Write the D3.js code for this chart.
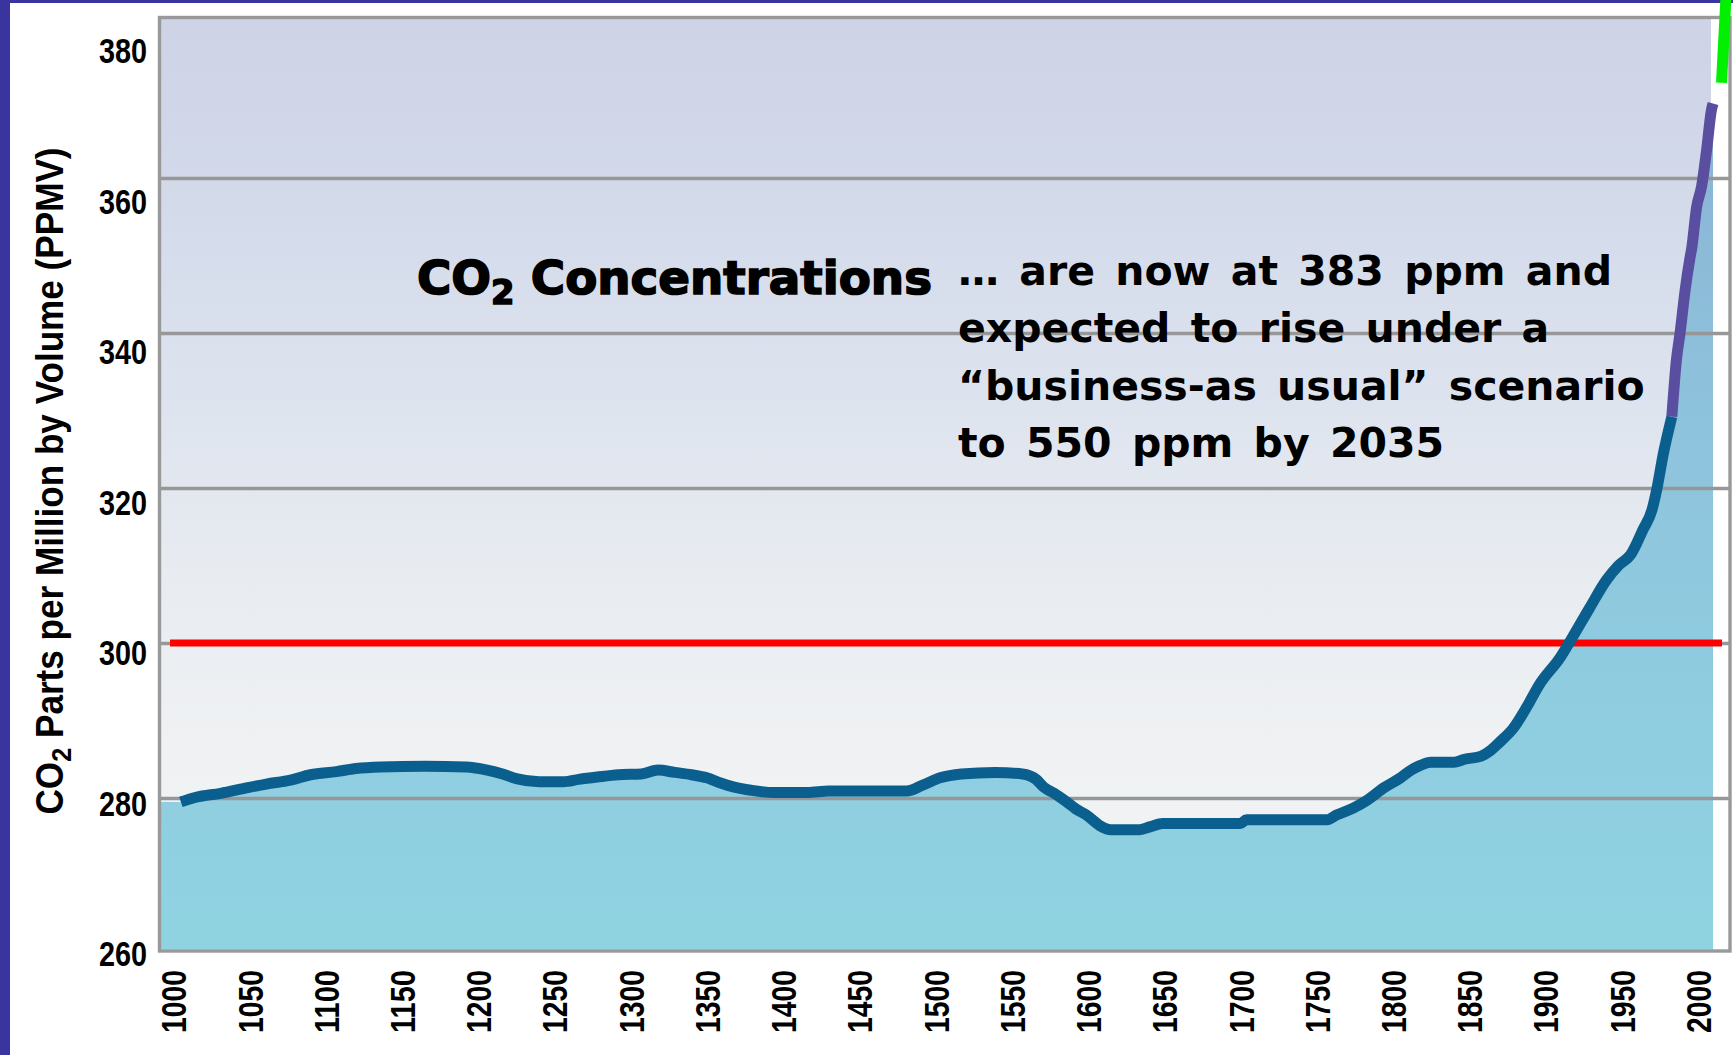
<!DOCTYPE html>
<html><head><meta charset="utf-8">
<script src="https://cdn.jsdelivr.net/npm/d3@7"></script>
<style>body{margin:0;background:#fff;overflow:hidden} svg{display:block}</style>
</head><body>
<svg id="chart" width="1733" height="1055"></svg>
<script>
// ---------- data ----------
const histYears = [1005,1015,1031,1048,1061,1077,1090,1107,1120,1136,1165,1192,1206,1216,1225,1240,1256,1266,1278,1292,1307,1318,1329,1340,1350,1358,1368,1379,1394,1416,1430,1481,1492,1503,1517,1539,1557,1566,1571,1578,1586,1592,1599,1608,1615,1634,1641,1649,1700,1704,1757,1763,1774,1783,1794,1805,1812,1818,1825,1840,1847,1858,1864,1870,1879,1888,1896,1910,1918,1929,1940,1948,1956,1964,1970,1973,1977.5,1983];
const histPpm   = [279.5,280.1,280.6,281.3,281.8,282.3,283.0,283.4,283.8,284.0,284.1,284.0,283.6,283.1,282.5,282.1,282.1,282.4,282.7,283.0,283.1,283.6,283.3,283.0,282.6,282.0,281.4,281.0,280.7,280.7,280.9,280.9,281.7,282.6,283.1,283.3,283.1,282.4,281.4,280.6,279.5,278.6,277.8,276.4,275.9,275.9,276.3,276.7,276.7,277.2,277.2,277.8,278.7,279.7,281.3,282.6,283.6,284.2,284.6,284.6,285.0,285.4,286.1,287.2,289.0,291.8,294.6,298.2,300.8,304.5,308.1,310.0,311.4,314.6,317.2,319.7,324.5,329.2];
const recentYears = [1983,1986,1988.4,1991.7,1995,1996,1999.3,2002.5,2005.8,2009,2010];
const recentPpm   = [329.2,336.5,340.0,345.5,349.8,350.9,356.3,358.9,363.6,368.8,369.6];
const projYears = [2015.6,2019.2];
const projPpm   = [372.3,386.0];
const yTickValues = [260,280,300,320,340,360,380];
const gridValues  = [280,300,320,340,360];
const xTickValues = [1000,1050,1100,1150,1200,1250,1300,1350,1400,1450,1500,1550,1600,1650,1700,1750,1800,1850,1900,1950,2000];
const referencePpm = 300;
const yTitleMain = "CO";
const yTitleSub = "2";
const yTitleRest = " Parts per Million by Volume (PPMV)";
const titleMain = "CO", titleSub = "2", titleRest = " Concentrations";
const noteLines = ["\u2026 are now at 383 ppm and","expected to rise under a","\u201cbusiness-as usual\u201d scenario","to 550 ppm by 2035"];

// ---------- layout ----------
const W = 1733, H = 1055;
const plotL = 158, plotR = 1730, plotT = 17.5, plotB = 951;
const fillR = 1713;
const svg = d3.select("#chart");
const x = d3.scaleLinear().domain([990, 2010]).range([plotL, fillR]);
const y = d3.scaleLinear().domain([260, 380]).range([953, 23]);
const yLabel = d3.scaleLinear().domain([260, 380]).range([953, 50]);

const defs = svg.append("defs");
const bg = defs.append("linearGradient").attr("id","bgGrad").attr("x1",0).attr("y1",0).attr("x2",0).attr("y2",1);
[[0,"#ced3e6"],[0.2,"#d3daea"],[0.4,"#dde3ee"],[0.6,"#e8ecf1"],[0.78,"#eff1f3"],[1,"#f2f6f6"]]
  .forEach(([o,c])=>bg.append("stop").attr("offset",o).attr("stop-color",c));
const fg = defs.append("linearGradient").attr("id","fillGrad").attr("gradientUnits","userSpaceOnUse")
  .attr("x1",0).attr("y1",y(360)).attr("x2",0).attr("y2",y(260));
[[0,"#8bb7d6"],[0.35,"#8ec4dd"],[0.7,"#8fcde0"],[1,"#8fd3e0"]]
  .forEach(([o,c])=>fg.append("stop").attr("offset",o).attr("stop-color",c));
defs.append("clipPath").attr("id","plotClip").append("rect")
  .attr("x",plotL+1.5).attr("y",plotT+1.5).attr("width",fillR-plotL-1.5).attr("height",plotB-plotT-3);

// outer bands
svg.append("rect").attr("x",0).attr("y",0).attr("width",W).attr("height",3).attr("fill","#39349e");
svg.append("rect").attr("x",0).attr("y",0).attr("width",10).attr("height",H).attr("fill","#39349e");

// plot background
svg.append("rect").attr("x",plotL+1.5).attr("y",plotT+1.5).attr("width",1711-plotL-1.5).attr("height",plotB-plotT-3)
  .attr("fill","url(#bgGrad)");

// area
const histData = histYears.map((d,i)=>({year:d, v:histPpm[i]}));
const recentData = recentYears.map((d,i)=>({year:d, v:recentPpm[i]}));
const projData = projYears.map((d,i)=>({year:d, v:projPpm[i]}));
const areaData = [{year:x.domain()[0], v:histPpm[0]}].concat(histData, recentData.slice(1));
svg.append("path").datum(areaData).attr("clip-path","url(#plotClip)")
  .attr("fill","url(#fillGrad)")
  .attr("d", d3.area().x(d=>x(d.year)).y0(y(260)).y1(d=>y(d.v)).curve(d3.curveMonotoneX));

// gridlines
const grid = svg.append("g").attr("transform",`translate(${plotL},0)`)
  .call(d3.axisLeft(y).tickValues(gridValues).tickSize(-(plotR-plotL)).tickFormat(""));
grid.select(".domain").remove();
grid.selectAll("line").attr("stroke","#979797").attr("stroke-width",3.3);

// reference line 300
svg.append("line").attr("x1",170).attr("x2",1722).attr("y1",y(referencePpm)).attr("y2",y(referencePpm))
  .attr("stroke","#ff0000").attr("stroke-width",7);

// lines
const line = d3.line().x(d=>x(d.year)).y(d=>y(d.v)).curve(d3.curveMonotoneX);
svg.append("path").datum(histData).attr("d",line).attr("fill","none")
  .attr("stroke","#0b5f8f").attr("stroke-width",11).attr("stroke-linejoin","round").attr("stroke-linecap","butt");
svg.append("path").datum(recentData).attr("d",line).attr("fill","none")
  .attr("stroke","#594ea0").attr("stroke-width",11).attr("stroke-linejoin","round").attr("stroke-linecap","butt");

// frame
svg.append("rect").attr("x",plotL+1.5).attr("y",plotT).attr("width",plotR-plotL-1.5).attr("height",plotB-plotT)
  .attr("fill","none").attr("stroke","#999").attr("stroke-width",3.4);

// projection (green)
svg.append("path").datum(projData).attr("d",d3.line().x(d=>x(d.year)).y(d=>y(d.v)))
  .attr("fill","none").attr("stroke","#00f000").attr("stroke-width",11).attr("stroke-linecap","butt");

// y tick labels
const tickFont = "'Liberation Sans Narrow','Liberation Sans',Arial,sans-serif";
const yAx = svg.append("g").attr("transform","translate(147,0)")
  .call(d3.axisLeft(yLabel).tickValues(yTickValues).tickSize(0).tickPadding(0).tickFormat(d3.format("d")));
yAx.select(".domain").remove();
yAx.selectAll("text").attr("font-family",tickFont).attr("font-weight","bold").attr("font-size",35)
  .attr("fill","#000").attr("dy","0.36em").attr("textLength",48).attr("lengthAdjust","spacingAndGlyphs");

// x tick labels
const xAx = svg.append("g").attr("transform","translate(0,970)")
  .call(d3.axisBottom(x).tickValues(xTickValues).tickSize(0).tickPadding(0).tickFormat(d3.format("d")));
xAx.select(".domain").remove();
xAx.selectAll("text").attr("font-family",tickFont).attr("font-weight","bold").attr("font-size",35)
  .attr("fill","#000").attr("y",0).attr("dy","0.36em").attr("transform","rotate(-90)")
  .attr("text-anchor","end").attr("textLength",63).attr("lengthAdjust","spacingAndGlyphs");

// y title
const yt = svg.append("text").attr("transform","translate(63,481) rotate(-90)")
  .attr("text-anchor","middle").attr("font-family","'Liberation Sans',Arial,sans-serif")
  .attr("font-weight","bold").attr("font-size",39).attr("fill","#000")
  .attr("textLength",667).attr("lengthAdjust","spacingAndGlyphs");
yt.append("tspan").text(yTitleMain);
yt.append("tspan").attr("font-size","0.72em").attr("dy","0.3em").text(yTitleSub);
yt.append("tspan").attr("dy","-0.22em").text(yTitleRest);

// title
const tt = svg.append("text").attr("x",417).attr("y",294)
  .attr("font-family","'DejaVu Sans',Verdana,sans-serif").attr("font-weight","bold").attr("font-size",46)
  .attr("fill","#000").attr("stroke","#000").attr("stroke-width",1.6)
  .attr("textLength",515).attr("lengthAdjust","spacingAndGlyphs");
tt.append("tspan").text(titleMain);
tt.append("tspan").attr("font-size","0.72em").attr("dy","0.3em").text(titleSub);
tt.append("tspan").attr("dy","-0.22em").text(titleRest);

// note
svg.append("g").selectAll("text").data(noteLines).join("text")
  .attr("x",958).attr("y",(d,i)=>285 + i*57.3)
  .attr("font-family","'DejaVu Sans',Verdana,sans-serif").attr("font-weight","bold").attr("font-size",41)
  .attr("letter-spacing",0).attr("word-spacing",6).attr("fill","#000")
  .text(d=>d);
</script>
</body></html>
